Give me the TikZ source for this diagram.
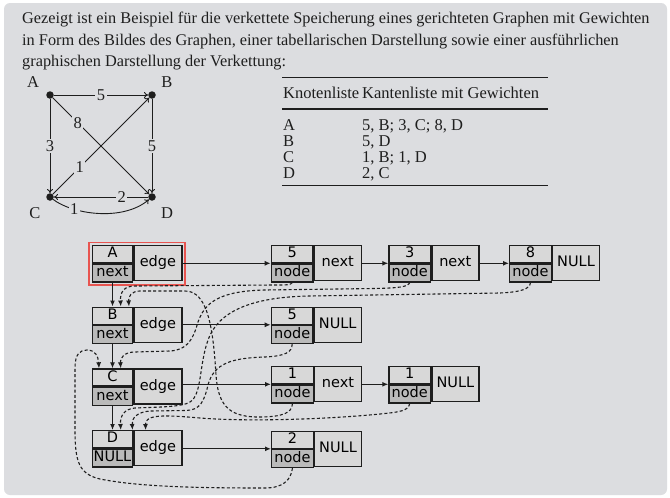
\documentclass[tikz,border=0pt]{standalone}
\usepackage{fontspec}
\setmainfont{Liberation Serif}
\newfontfamily\boxfont{DejaVu Sans}
\usetikzlibrary{arrows.meta,fit}
\definecolor{bg}{RGB}{220,221,224}
\definecolor{cellL}{RGB}{216,216,216}
\definecolor{cellD}{RGB}{186,186,186}
\definecolor{hl}{RGB}{232,84,80}
\definecolor{ink}{RGB}{30,30,30}
\newcommand\hdrrec[5]{%
  \node[topc,anchor=north west,minimum width=40.3] (#1t) at (#2,#3) {#4};
  \node[botc,anchor=north west,minimum width=40.3] (#1b) at (#1t.south west) {#5};
  \node[rightc,anchor=north west,minimum width=48] (#1r) at (#1t.north east) {edge};
}
\newcommand\valrec[5]{%
  \node[topc,anchor=north west,minimum width=41.6] (#1t) at (#2,#3) {#4};
  \node[botc,anchor=north west,minimum width=41.6] (#1b) at (#1t.south west) {node};
  \node[rightc,anchor=north west,minimum width=47] (#1r) at (#1t.north east) {#5};
}
\begin{document}
\begin{tikzpicture}[x=1pt,y=-1pt,
  cellbase/.style={rectangle,draw=ink,line width=1.3pt,inner sep=0pt,
    font=\boxfont\fontsize{14.5}{14.5}\selectfont,text height=10pt,text depth=2.5pt},
  topc/.style={cellbase,fill=cellL,minimum height=17pt},
  botc/.style={cellbase,fill=cellD,minimum height=18pt},
  rightc/.style={cellbase,fill=cellL,minimum height=35pt},
  solidarr/.style={draw=ink,line width=1.2pt,-{Latex[length=6pt,width=5pt]}},
  dasharr/.style={draw=ink,line width=1.1pt,dash pattern=on 3pt off 2.2pt,-{Latex[length=6pt,width=5pt]}},
  bodytext/.style={anchor=base west,inner sep=0pt,text=ink,font=\fontsize{16.3}{19}\selectfont},
  tabtext/.style={anchor=base west,inner sep=0pt,text=ink,font=\fontsize{16.5}{19}\selectfont},
  gdot/.style={circle,fill=ink,inner sep=0pt,minimum size=7.5pt},
  glab/.style={inner sep=0pt,text=ink,font=\fontsize{16.5}{19}\selectfont},
  wlab/.style={fill=bg,inner sep=1.5pt,text=ink,font=\fontsize{16.5}{19}\selectfont},
  gedge/.style={draw=ink,line width=0.9pt,-{To[length=4pt,width=6pt]}}
]
\useasboundingbox (0,0) rectangle (670,498);
\fill[white] (0,0) rectangle (670,498);
\fill[bg,rounded corners=6pt] (4,3) rectangle (667,495);

% intro text
\node[bodytext] (t1) at (22,23) {Gezeigt ist ein Beispiel für die verkettete Speicherung eines gerichteten Graphen mit Gewichten};
\node[bodytext] (t2) at (22,45) {in Form des Bildes des Graphen, einer tabellarischen Darstellung sowie einer ausführlichen};
\node[bodytext] (t3) at (22,66) {graphischen Darstellung der Verkettung:};

% graph
\node[gdot] (gA) at (50,95) {};
\node[gdot] (gB) at (152,95) {};
\node[gdot] (gC) at (50,197) {};
\node[gdot] (gD) at (152,197) {};
\node[glab] (lA) at (33,82) {A};
\node[glab] (lB) at (167,82) {B};
\node[glab] (lC) at (35,213) {C};
\node[glab] (lD) at (167,213) {D};
\draw[gedge] (gA) -- node[wlab]{5} (gB);
\draw[gedge] (gA) -- node[wlab]{3} (gC);
\draw[gedge] (gB) -- node[wlab]{5} (gD);
\draw[gedge] (gA) -- node[wlab,pos=0.26]{8} (gD);
\draw[gedge] (gC) -- node[wlab,pos=0.28]{1} (gB);
\draw[gedge] (gD) -- node[wlab,pos=0.28]{2} (gC);
\draw[gedge] (gC) .. controls (72,214) and (122,222) .. node[wlab,pos=0.27]{1} (gD);

% table
\draw[ink,line width=0.6pt] (282,77) coordinate (r1a) -- (548,77) coordinate (r1b);
\draw[ink,line width=1.2pt] (282,109) coordinate (r2a) -- (548,109) coordinate (r2b);
\draw[ink,line width=0.6pt] (282,185) coordinate (r3a) -- (548,185) coordinate (r3b);
\node[tabtext] (h1) at (283,98.5) {Knotenliste};
\node[tabtext] (h2) at (362,98.5) {Kantenliste mit Gewichten};
\node[tabtext] (cA) at (283,130) {A};
\node[tabtext] (eA) at (362,130) {5, B; 3, C; 8, D};
\node[tabtext] (cB) at (283,146.2) {B};
\node[tabtext] (eB) at (362,146.2) {5, D};
\node[tabtext] (cC) at (283,162.3) {C};
\node[tabtext] (eC) at (362,162.3) {1, B; 1, D};
\node[tabtext] (cD) at (283,178.5) {D};
\node[tabtext] (eD) at (362,178.5) {2, C};

% records
\hdrrec{A}{91.7}{245}{A}{next}
\hdrrec{B}{91.7}{306.5}{B}{next}
\hdrrec{C}{91.7}{368.3}{C}{next}
\hdrrec{D}{91.7}{430}{D}{NULL}
\valrec{a1}{270.7}{245}{5}{next}
\valrec{a2}{388.3}{245}{3}{next}
\valrec{a3}{509}{245}{8}{NULL}
\valrec{b1}{270.7}{306.5}{5}{NULL}
\valrec{c1}{271}{366}{1}{next}
\valrec{c2}{388.3}{366}{1}{NULL}
\valrec{d1}{271}{430.5}{2}{NULL}
\node[draw=hl,line width=1.6pt,inner sep=2.5pt,fit=(At)(Ab)(Ar)] (hlbox) {};

% solid arrows
\draw[solidarr] (Ar.east |- a1t.south west) -- (a1t.south west);
\draw[solidarr] (a1r.east |- a2t.south west) -- (a2t.south west);
\draw[solidarr] (a2r.east |- a3t.south west) -- (a3t.south west);
\draw[solidarr] (Br.east |- b1t.south west) -- (b1t.south west);
\draw[solidarr] (Cr.east |- c1t.south west) -- (c1t.south west);
\draw[solidarr] (c1r.east |- c2t.south west) -- (c2t.south west);
\draw[solidarr] (Dr.east |- d1t.south west) -- (d1t.south west);
\draw[solidarr] (Ab.south) -- (Bt.north);
\draw[solidarr] (Bb.south) -- (Ct.north);
\draw[solidarr] (Cb.south) -- (Dt.north);

% dashed pointers
% A->B (5)
\draw[dasharr] (a1b.south) .. controls (291,285) and (287,285) .. (275,285)
  -- (135,286) .. controls (124,286) and (120,292) .. ([xshift=8.3pt]Bt.north);
% C->B (1)
\draw[dasharr] (c1b.south) .. controls (292,413) and (283,417) .. (258,417)
  .. controls (226,417) and (218,402) .. (216,375)
  .. controls (213,325) and (207,291) .. (185,291)
  -- (140,291) .. controls (131,291) and (128.3,297) .. ([xshift=16.5pt]Bt.north);
% A->C (3)
\draw[dasharr] (a2b.south) .. controls (408,287) and (398,288) .. (375,288.5)
  -- (265,290) .. controls (220,291) and (205,302) .. (198,322)
  .. controls (193,340) and (187,350) .. (170,351)
  -- (135,352) .. controls (124,352) and (120,358) .. ([xshift=8.3pt]Ct.north);
% D->C (2)
\draw[dasharr] (d1b.south) .. controls (291,480) and (283,488) .. (265,488)
  .. controls (200,488) and (140,487) .. (100,479)
  .. controls (79,474) and (75,462) .. (75,430)
  -- (75,368) .. controls (75,354) and (80,350) .. (87,350)
  .. controls (95,350) and (98.3,356) .. ([xshift=-13.5pt]Ct.north);
% A->D (8)
\draw[dasharr] (a3b.south) .. controls (530,289) and (521,292) .. (500,293)
  -- (310,296) .. controls (250,297) and (218,312) .. (208,340)
  .. controls (199,365) and (202,395) .. (190,402)
  .. controls (182,407) and (160,407) .. (135,408)
  .. controls (124,409) and (120,416) .. ([xshift=8.3pt]Dt.north);
% B->D (5)
\draw[dasharr] (b1b.south) .. controls (292,352) and (286,356) .. (265,357)
  .. controls (232,358) and (214,363) .. (208,385)
  .. controls (204,402) and (200,410) .. (186,410.5)
  -- (150,411) .. controls (137,412) and (131.7,418) .. ([xshift=20pt]Dt.north);
% C->D (1)
\draw[dasharr] (c2b.south) .. controls (408,411) and (400,412) .. (380,414)
  .. controls (330,419) and (250,422) .. (200,418)
  .. controls (165,415) and (145,414) .. ([xshift=33.2pt]Dt.north);
\end{tikzpicture}
\end{document}
